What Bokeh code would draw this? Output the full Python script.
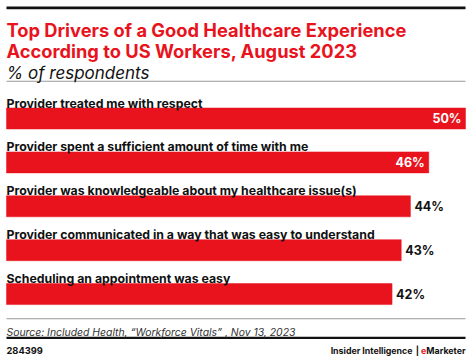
from bokeh.plotting import figure
from bokeh.models import Range1d
from bokeh.core.properties import value
from bokeh.embed import file_html
from bokeh.resources import INLINE

categories = [
    "Provider treated me with respect",
    "Provider spent a sufficient amount of time with me",
    "Provider was knowledgeable about my healthcare issue(s)",
    "Provider communicated in a way that was easy to understand",
    "Scheduling an appointment was easy",
]
values = [50, 46, 44, 43, 42]
value_labels = ["50%", "46%", "44%", "43%", "42%"]

title_lines = ["Top Drivers of a Good Healthcare Experience",
               "According to US Workers, August 2023"]
subtitle = "% of respondents"
source = "Source: Included Health, \u201cWorkforce Vitals\u201d , Nov 13, 2023"
chart_id = "284399"

RED = "#e8131d"
FONT = "Inter"
W, H = 470, 357
LEFT_PX, RIGHT_PX = 6, 465
px_per_unit = (RIGHT_PX - LEFT_PX) / max(values)

p = figure(width=W, height=H, output_backend="svg", toolbar_location=None,
           x_range=Range1d(-LEFT_PX / px_per_unit, (W - LEFT_PX) / px_per_unit),
           y_range=Range1d(H, 0), min_border=0,
           x_axis_location=None, y_axis_location=None)
p.extra_x_ranges = {"px": Range1d(0, W)}
p.grid.visible = False
p.outline_line_color = None
p.background_fill_color = "white"
p.border_fill_color = "white"

# bars
first_top, pitch, bar_h = 107.5, 43.9, 21
centers = [first_top + bar_h / 2 + i * pitch for i in range(len(values))]
p.hbar(y=centers, left=0, right=values, height=bar_h, fill_color=RED,
       line_color=RED, line_width=0.5)

# category labels
p.text(x=[0] * len(categories), y=[c - bar_h / 2 - 5 for c in centers], text=categories,
       text_font=value(FONT), text_font_size="12.3px", text_font_style="bold",
       text_color="#111111", text_baseline="alphabetic", text_align="left")

# value labels
inside = [v >= 45 for v in values]
ins_x = [v for v, i in zip(values, inside) if i]
ins_y = [c for c, i in zip(centers, inside) if i]
ins_t = [t for t, i in zip(value_labels, inside) if i]
out_x = [v for v, i in zip(values, inside) if not i]
out_y = [c for c, i in zip(centers, inside) if not i]
out_t = [t for t, i in zip(value_labels, inside) if not i]
p.text(x=ins_x, y=ins_y, text=ins_t, x_offset=-4, text_font=value(FONT),
       text_font_size="12.5px", text_font_style="bold", text_color="white",
       text_baseline="middle", text_align="right")
p.text(x=out_x, y=out_y, text=out_t, x_offset=4, text_font=value(FONT),
       text_font_size="12.5px", text_font_style="bold", text_color="#111111",
       text_baseline="middle", text_align="left")

# rules
p.quad(left=[LEFT_PX], right=[RIGHT_PX], top=[6], bottom=[8.7], x_range_name="px",
       fill_color="#111111", line_color=None)
p.quad(left=[LEFT_PX], right=[RIGHT_PX], top=[80.3], bottom=[81.3], x_range_name="px",
       fill_color="#999999", line_color=None)
p.quad(left=[LEFT_PX], right=[RIGHT_PX], top=[317.8], bottom=[318.8], x_range_name="px",
       fill_color="#999999", line_color=None)
p.quad(left=[LEFT_PX], right=[RIGHT_PX], top=[336.3], bottom=[338.6], x_range_name="px",
       fill_color="#111111", line_color=None)

# title + subtitle
p.text(x=[LEFT_PX, LEFT_PX], y=[29.5, 50.2], text=title_lines, x_range_name="px",
       text_font=value(FONT), text_font_size="18.3px", text_font_style="bold",
       text_color=RED, text_baseline="alphabetic")
p.text(x=[LEFT_PX], y=[72.8], text=[subtitle], x_range_name="px",
       text_font=value(FONT), text_font_size="17px", text_font_style="italic",
       text_color="#111111", text_baseline="alphabetic")

# source / footer
p.text(x=[LEFT_PX], y=[332], text=[source], x_range_name="px",
       text_font=value(FONT), text_font_size="10.4px", text_font_style="italic",
       text_color="#333333", text_baseline="alphabetic")
p.text(x=[LEFT_PX], y=[349.5], text=[chart_id], x_range_name="px",
       text_font=value(FONT), text_font_size="9.3px", text_font_style="bold",
       text_color="#111111", text_baseline="alphabetic")
p.text(x=[412], y=[349.5], text=["Insider Intelligence"], x_range_name="px",
       text_font=value(FONT), text_font_size="8.8px", text_font_style="bold",
       text_color="#111111", text_baseline="alphabetic", text_align="right")
p.text(x=[416.8], y=[349.5], text=["|"], x_range_name="px",
       text_font=value(FONT), text_font_size="8.8px", text_font_style="bold",
       text_color="#111111", text_baseline="alphabetic", text_align="center")
p.text(x=[420.5], y=[349.5], text=["e"], x_range_name="px",
       text_font=value(FONT), text_font_size="8.8px", text_font_style="bold",
       text_color=RED, text_baseline="alphabetic", text_align="left")
p.text(x=[465], y=[349.5], text=["Marketer"], x_range_name="px",
       text_font=value(FONT), text_font_size="8.8px", text_font_style="bold",
       text_color="#111111", text_baseline="alphabetic", text_align="right")

open("out.html", "w").write(file_html(p, INLINE))
